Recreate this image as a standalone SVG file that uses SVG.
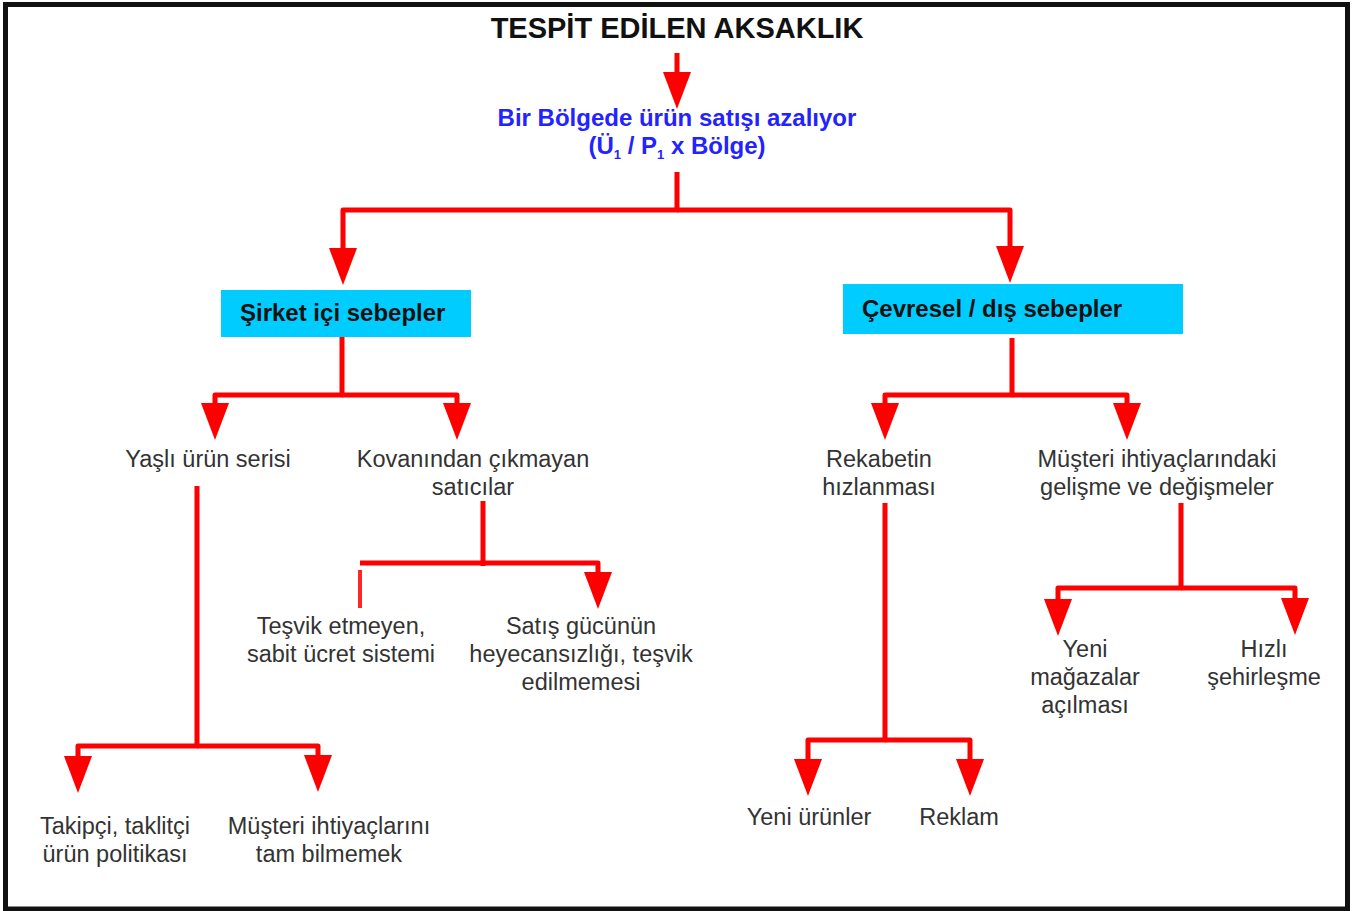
<svg xmlns="http://www.w3.org/2000/svg" width="1362" height="911" viewBox="0 0 1362 911">
<style>
.t{font-family:"Liberation Sans",Arial,sans-serif;font-size:23.5px;fill:#333;text-anchor:middle}
.b{font-family:"Liberation Sans",Arial,sans-serif;font-weight:bold;font-size:24px;fill:#111}
.title{font-family:"Liberation Sans",Arial,sans-serif;font-weight:bold;font-size:29px;fill:#111;text-anchor:middle}
.blue{font-family:"Liberation Sans",Arial,sans-serif;font-weight:bold;font-size:24px;fill:#2323ff;text-anchor:middle}
.box{fill:#00ccff}
.ln{fill:none;stroke:#ff0000;stroke-width:5;stroke-linejoin:round}
.c{fill:none;stroke:#ff0000;stroke-width:5;stroke-linejoin:round;marker-end:url(#ah)}
.faint{fill:none;stroke:#ff0000;stroke-width:4;opacity:0.85}
</style>
<defs>
<marker id="ah" markerUnits="userSpaceOnUse" markerWidth="40" markerHeight="30" refX="0" refY="14" orient="auto" viewBox="0 0 40 28">
<path d="M0,0 L37,14 L0,28 Z" fill="#ff0000"/>
</marker>
</defs>
<rect x="0" y="0" width="1362" height="911" fill="#ffffff"/>
<rect x="5.5" y="4.5" width="1342" height="904.5" fill="none" stroke="#111" stroke-width="5"/>

<g id="connectors">
<path class="c" d="M677,53 V72"/>
<path class="c" d="M677,172 V210 H343 V248"/>
<path class="c" d="M677,210 H1010 V246"/>
<path class="c" d="M342,337 V395 H215 V403"/>
<path class="c" d="M342,395 H457 V403"/>
<path class="c" d="M197,486 V746 H78 V756"/>
<path class="c" d="M197,746 H318 V755"/>
<path class="ln" d="M483,501 V566"/>
<path class="ln" d="M483,563 H360"/>
<path class="faint" d="M360,570 V608"/>
<path class="c" d="M483,563 H598 V572"/>
<path class="c" d="M1012,338 V395 H885 V403"/>
<path class="c" d="M1012,395 H1127 V403"/>
<path class="c" d="M885,503 V740 H808 V759"/>
<path class="c" d="M885,740 H970 V759"/>
<path class="c" d="M1181,503 V588 H1058 V599"/>
<path class="c" d="M1181,588 H1295 V598"/>
</g>

<g id="title"><text class="title" x="677" y="38">TESPİT EDİLEN AKSAKLIK</text></g>

<g id="problem">
<text class="blue" x="677" y="126">Bir Bölgede ürün satışı azalıyor</text>
<text class="blue" x="677" y="154">(Ü<tspan dy="5" font-size="13">1</tspan><tspan dy="-5"> / P</tspan><tspan dy="5" font-size="13">1</tspan><tspan dy="-5"> x Bölge)</tspan></text>
</g>

<g id="sirket">
<rect class="box" x="221" y="290" width="250" height="47"/>
<text class="b" x="240" y="321">Şirket içi sebepler</text>
</g>

<g id="cevresel">
<rect class="box" x="843" y="284" width="340" height="50"/>
<text class="b" x="862" y="317">Çevresel / dış sebepler</text>
</g>

<g id="yasli"><text class="t" x="208" y="467">Yaşlı ürün serisi</text></g>
<g id="kovan"><text class="t" x="473" y="467">Kovanından çıkmayan</text><text class="t" x="473" y="495">satıcılar</text></g>
<g id="takipci"><text class="t" x="115" y="834">Takipçi, taklitçi</text><text class="t" x="115" y="862">ürün politikası</text></g>
<g id="musteri1"><text class="t" x="329" y="834">Müşteri ihtiyaçlarını</text><text class="t" x="329" y="862">tam bilmemek</text></g>
<g id="tesvik"><text class="t" x="341" y="634">Teşvik etmeyen,</text><text class="t" x="341" y="662">sabit ücret sistemi</text></g>
<g id="satis"><text class="t" x="581" y="634">Satış gücünün</text><text class="t" x="581" y="662">heyecansızlığı, teşvik</text><text class="t" x="581" y="690">edilmemesi</text></g>
<g id="rekabet"><text class="t" x="879" y="467">Rekabetin</text><text class="t" x="879" y="495">hızlanması</text></g>
<g id="musteri2"><text class="t" x="1157" y="467">Müşteri ihtiyaçlarındaki</text><text class="t" x="1157" y="495">gelişme ve değişmeler</text></g>
<g id="yeniurun"><text class="t" x="809" y="825">Yeni ürünler</text></g>
<g id="reklam"><text class="t" x="959" y="825">Reklam</text></g>
<g id="magaza"><text class="t" x="1085" y="657">Yeni</text><text class="t" x="1085" y="685">mağazalar</text><text class="t" x="1085" y="713">açılması</text></g>
<g id="sehir"><text class="t" x="1264" y="657">Hızlı</text><text class="t" x="1264" y="685">şehirleşme</text></g>
</svg>
